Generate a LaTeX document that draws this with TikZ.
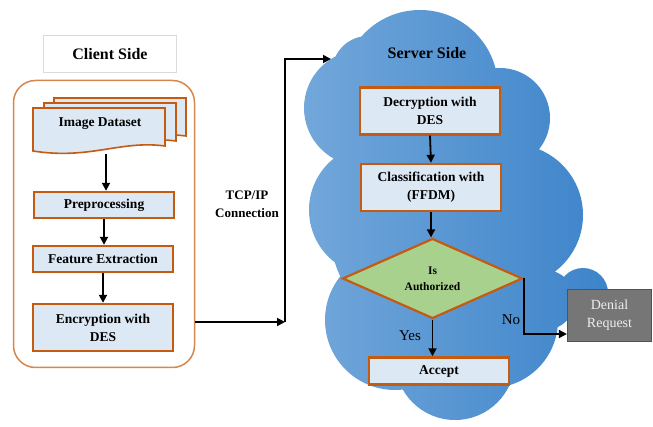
\documentclass[tikz,border=0pt]{standalone}
\usepackage{fontspec}
\setmainfont{Liberation Serif}
\usetikzlibrary{shapes.geometric,arrows.meta}
\definecolor{boxorange}{HTML}{C55A11}
\definecolor{boxfill}{HTML}{DDE8F5}
\definecolor{contorange}{HTML}{D5874E}
\definecolor{diagreen}{HTML}{A9D18E}
\definecolor{cloudL}{HTML}{72A7DA}
\definecolor{cloudR}{HTML}{3D84CA}
\definecolor{denialfill}{HTML}{767676}
\definecolor{denialline}{HTML}{44546A}
\definecolor{denialtext}{HTML}{EEEEEE}
\definecolor{labelline}{HTML}{DADADA}
\begin{document}
\begin{tikzpicture}[x=1pt,y=-1pt,
  procbox/.style={draw=boxorange, line width=2.4pt, fill=boxfill, minimum width=140pt,
    align=center, inner sep=0pt, font=\bfseries\fontsize{13.5}{18}\selectfont},
  docshape/.style={draw=boxorange, line width=1.6pt, fill=boxfill},
  flow/.style={draw=black, line width=1.8pt, -{Triangle[length=8pt,width=8pt]}},
  lbl/.style={font=\fontsize{15}{18}\selectfont, inner sep=0pt},
  title/.style={font=\bfseries\fontsize{16}{19}\selectfont, inner sep=0pt}
]
\useasboundingbox (0,0) rectangle (653,427);

% ---- cloud (server side)
\shade[left color=cloudL, right color=cloudR]
  (362,108) circle (58pt)
  (368,72) circle (36pt)
  (420,88) circle (78pt)
  (500,118) circle (50pt)
  (512,215) circle (71pt)
  (375,210) circle (66pt)
  (395,320) circle (70pt)
  (490,320) circle (68pt)
  (455,360) circle (60pt)
  (440,230) circle (110pt)
  (545,300) circle (30pt)
  (583,293) circle (25pt);

% ---- client side
\node[draw=labelline, line width=1pt, minimum width=133pt, minimum height=37pt, title] (client) at (110,54) {Client Side};
\node[draw=contorange, line width=1.5pt, rounded corners=22pt, minimum width=181pt, minimum height=287pt] (cont) at (104,224) {};

\filldraw[docshape] (54,98) -- (186,98) -- (186,136) .. controls (141,130) and (111,150) .. (54,143) -- cycle;
\filldraw[docshape] (44,103) -- (176,103) -- (176,141) .. controls (131,135) and (101,155) .. (44,148) -- cycle;
\filldraw[docshape] (33,108) -- (165,108) -- (165,146) .. controls (120,140) and (90,160) .. (33,151) -- cycle;
\node[font=\bfseries\fontsize{13.5}{18}\selectfont, inner sep=0pt] (ds) at (100,124) {Image Dataset};
\coordinate (dsb) at (106,154);

\node[procbox, minimum height=26pt] (pre) at (104,205) {Preprocessing};
\node[procbox, minimum height=26pt] (fe) at (103,259) {Feature Extraction};
\node[procbox, minimum height=47pt] (enc) at (103,327.5) {Encryption with\\DES};

\draw[flow] (dsb) -- (dsb |- pre.north);
\draw[flow] (pre.south) -- (pre.south |- fe.north);
\draw[flow] (fe.south) -- (enc.north);

% ---- TCP/IP connection
\node[font=\bfseries\fontsize{13}{18}\selectfont, align=center, inner sep=0pt] (tcplbl) at (247,204) {TCP/IP\\Connection};
\coordinate (tcp) at (285,322);
\coordinate (tcptop) at (285,59);
\coordinate (cloudin) at (331,59);
\draw[flow] (cont.east |- tcp) -- (tcp);
\draw[flow] (tcp) -- (tcptop) -- (cloudin);

% ---- server side
\node[title] (server) at (427,53) {Server Side};
\node[procbox, minimum height=47pt] (dec) at (430,111) {Decryption with\\DES};
\node[procbox, minimum height=47pt] (cls) at (431,187.5) {Classification with\\(FFDM)};
\node[diamond, draw=boxorange, line width=2.2pt, fill=diagreen, minimum width=180pt, minimum height=80pt,
  aspect=2.25, inner sep=0pt, align=center, font=\bfseries\fontsize{11.5}{16}\selectfont] (dia) at (432.5,278.5) {Is\\Authorized};
\node[procbox, minimum height=27pt] (acc) at (439,371) {Accept};
\node[fill=denialfill, draw=denialline, line width=1.2pt, minimum width=84pt, minimum height=52pt,
  text=denialtext, align=center, inner sep=0pt, font=\fontsize{14}{18}\selectfont] (den) at (609.5,315.5) {Denial\\Request};

\draw[flow] (dec.south) -- (cls.north);
\draw[flow] (cls.south) -- (cls.south |- dia.north);
\draw[flow] (dia.south) -- (dia.south |- acc.north);
\coordinate (nocorner) at (525,334);
\draw[flow] (dia.east) |- (den.west |- nocorner);

\node[lbl] (yes) at (410,336) {Yes};
\node[lbl] (no) at (511,320) {No};
\end{tikzpicture}
\end{document}
